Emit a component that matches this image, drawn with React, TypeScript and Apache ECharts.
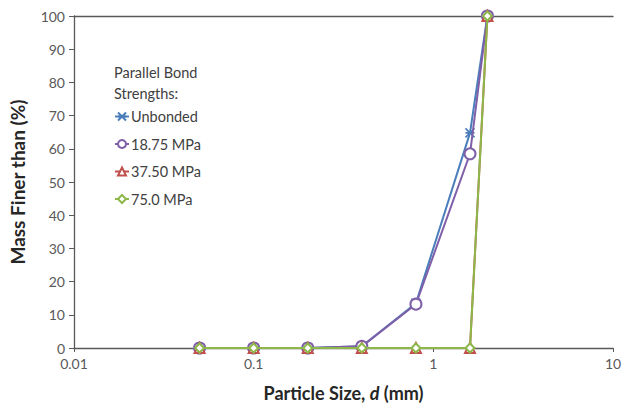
import React, { useEffect, useRef } from "react";
import * as echarts from "echarts";

const particleSizes = [0.05, 0.1, 0.2, 0.4, 0.8, 1.6, 2.0];
const unbonded = [0, 0, 0, 0.5, 13.5, 64.8, 100];
const mpa1875 = [0, 0, 0, 0.5, 13.2, 58.5, 100];
const mpa3750 = [0, 0, 0, 0, 0, 0, 100];
const mpa750 = [0, 0, 0, 0, 0, 0, 100];
const seriesNames = ["Unbonded", "18.75 MPa", "37.50 MPa", "75.0 MPa"];
const colors = ["#4A7EBB", "#7F5FA8", "#C0504D", "#8DB849"];
const xTickLabels = ["0.01", "0.1", "1", "10"];

const pairs = (ys: number[]) => particleSizes.map((x, i) => [x, ys[i]]);

const FONT = "Lato, 'Open Sans', sans-serif";

export default function App() {
  const ref = useRef<HTMLDivElement>(null);
  useEffect(() => {
    const chart = echarts.init(ref.current!, null, { renderer: "svg" });
    const values = [unbonded, mpa1875, mpa3750, mpa750];
    const symbols = [
      "path://M0,0L10,10M10,0L0,10M0,5L10,5",
      "emptyCircle",
      "emptyTriangle",
      "emptyDiamond",
    ];
    const sizes = [9, 11, 10, 9];
    chart.setOption({
      animation: false,
      textStyle: { fontFamily: FONT },
      grid: { left: 72, right: 14, top: 16, bottom: 58, containLabel: false },
      legend: {
        orient: "vertical",
        left: 109,
        top: 104,
        itemGap: 12.5,
        itemWidth: 14,
        itemHeight: 10,
        data: seriesNames,
        textStyle: { fontSize: 14.5, color: "#404040", fontFamily: FONT, padding: [0, 0, 0, -3] },
      },
      graphic: [
        {
          type: "text",
          left: 114,
          top: 62,
          style: {
            text: "Parallel Bond\nStrengths:",
            fontSize: 14.5,
            lineHeight: 21,
            fill: "#404040",
            align: "center",
            fontFamily: FONT,
          },
        },
      ],
      xAxis: [
        {
          type: "log",
          logBase: 10,
          min: 0.01,
          max: 10,
          name: "{b|Particle Size, }{i|d}{b| (mm)}",
          nameLocation: "middle",
          nameGap: 36,
          nameTextStyle: {
            rich: {
              b: { fontWeight: "bold", fontSize: 18, color: "#262626", fontFamily: FONT },
              i: { fontWeight: "bold", fontStyle: "italic", fontSize: 18, color: "#262626", fontFamily: FONT },
            },
          },
          axisLine: { lineStyle: { color: "#595959", width: 1.3 } },
          axisTick: { show: true, length: 4, lineStyle: { color: "#595959" } },
          axisLabel: {
            fontSize: 14,
            color: "#595959",
            margin: 8,
            formatter: (v: number) => {
              const idx = Math.round(Math.log10(v)) + 2;
              return xTickLabels[idx] ?? String(v);
            },
          },
          splitLine: { show: false },
        },
        {
          type: "log",
          logBase: 10,
          min: 0.01,
          max: 10,
          position: "top",
          axisLine: { show: true, lineStyle: { color: "#595959", width: 1.3 } },
          axisTick: { show: false },
          axisLabel: { show: false },
          splitLine: { show: false },
        },
      ],
      yAxis: {
        type: "value",
        min: 0,
        max: 100,
        interval: 10,
        name: "Mass Finer than (%)",
        nameLocation: "middle",
        nameGap: 47,
        nameTextStyle: { fontWeight: "bold", fontSize: 19, color: "#262626", fontFamily: FONT },
        axisLine: { show: true, lineStyle: { color: "#595959", width: 1.3 } },
        axisTick: { show: true, length: 5, lineStyle: { color: "#595959" } },
        axisLabel: { fontSize: 14, color: "#595959", margin: 9 },
        splitLine: { show: false },
      },
      series: seriesNames.map((name, i) => ({
        name,
        type: "line",
        xAxisIndex: 0,
        data: pairs(values[i]),
        symbol: symbols[i],
        symbolSize: sizes[i],
        showSymbol: true,
        color: colors[i],
        lineStyle: { color: colors[i], width: 2 },
        itemStyle: {
          color: colors[i],
          borderColor: colors[i],
          borderWidth: 1.6,
        },
        z: 2 + i,
      })),
    });
    return () => chart.dispose();
  }, []);
  return (
    <div
      ref={ref}
      style={{ position: "fixed", left: 0, top: 0, width: 627, height: 407, background: "#fff" }}
    />
  );
}
